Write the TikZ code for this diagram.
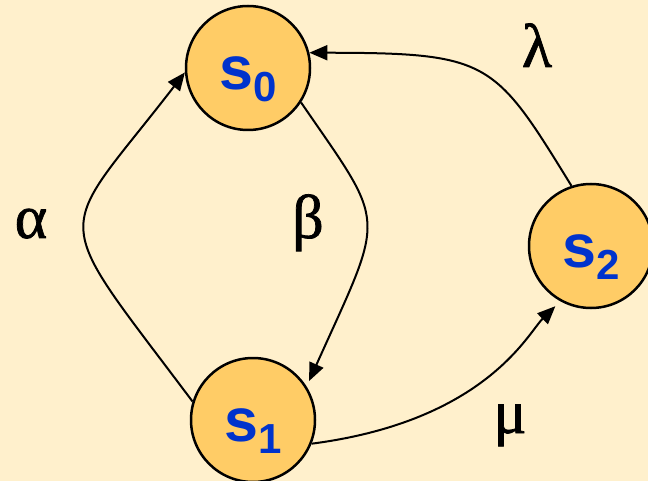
\documentclass[tikz,border=0pt]{standalone}
\usepackage{fontspec}
\setmainfont{Liberation Serif}
\newfontfamily\statefont{Liberation Sans}
\newfontfamily\ratefont[FakeBold=1.2]{Liberation Serif}
\usetikzlibrary{arrows.meta}
\definecolor{bgyellow}{RGB}{255,240,204}
\definecolor{stateorange}{RGB}{255,204,102}
\definecolor{stateblue}{RGB}{0,51,204}
\newcommand{\statename}[1]{s\raisebox{-12pt}{\fontsize{42}{42}\selectfont #1}}
\begin{document}
\begin{tikzpicture}[x=1pt, y=-1pt, >={Triangle[length=18pt,width=15pt]},
  state/.style={circle, draw, line width=2.5pt, fill=stateorange, minimum size=124pt, inner sep=0pt,
    text=stateblue, font=\statefont\bfseries\fontsize{61}{61}\selectfont, text height=43pt, text depth=0pt},
  rate/.style={font=\ratefont\fontsize{62}{62}\selectfont, anchor=base},
  trans/.style={->, line width=2pt}]
\fill[bgyellow] (0,0) rectangle (648,481);
\useasboundingbox (0,0) rectangle (648,481);
\node[state] (s0) at (248,68) {\statename{0}};
\node[state] (s1) at (253,420) {\statename{1}};
\node[state] (s2) at (591,246) {\statename{2}};
\draw[trans] (s1.163) .. controls (46,206) and (54,242) .. (s0.184);
\draw[trans, shorten >=6pt] (s0.-33) .. controls (388,229) and (386,210) .. (s1.32);
\draw[trans] (s2.108) .. controls (494,60) and (490,53) .. (s0.14);
\draw[trans, shorten >=7pt] (s1.-22) .. controls (486,421) and (528,333) .. (s2.241);
\node[rate] (alpha) at (31,238) {α};
\node[rate] (beta) at (308,238) {β};
\node[rate] (lambda) at (537,67) {λ};
\node[rate] (mu) at (510,433) {μ};
\end{tikzpicture}
\end{document}
